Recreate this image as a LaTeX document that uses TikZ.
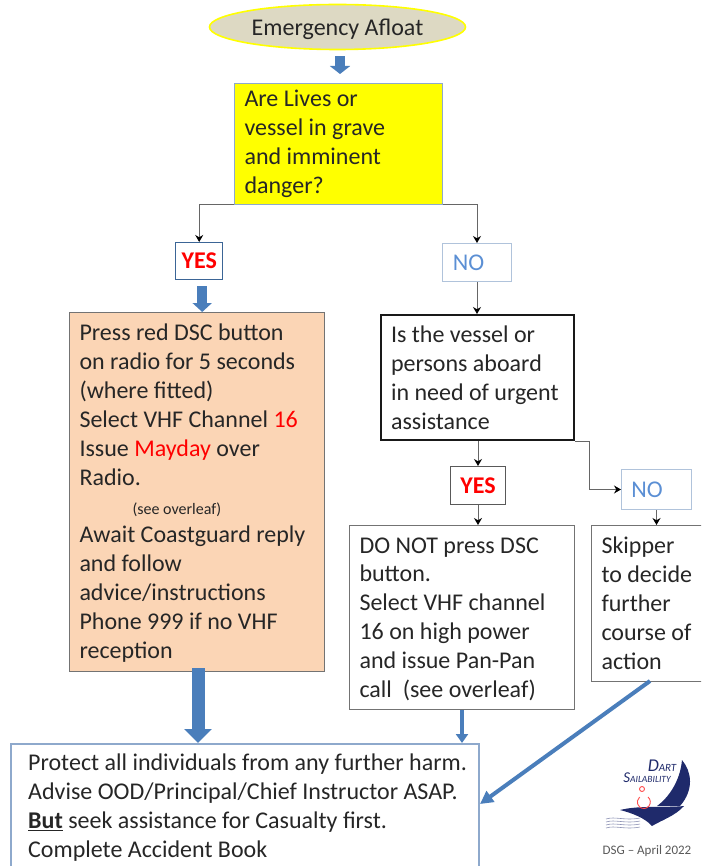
\documentclass[tikz,border=0pt]{standalone}
\usepackage{fontspec}
\setmainfont{Carlito}
\usetikzlibrary{arrows.meta,shapes.geometric}

\definecolor{inkgrey}{HTML}{262626}
\definecolor{frameblue}{HTML}{8EA9CC}
\definecolor{noblue}{HTML}{5B8FD4}
\definecolor{arrowblue}{HTML}{4A7EBB}
\definecolor{peach}{HTML}{FBD5B5}
\definecolor{khaki}{HTML}{DDD9C3}
\definecolor{navy}{HTML}{1F2A6B}
\definecolor{signal}{RGB}{255,255,0}

\tikzset{
  textbox/.style={draw, anchor=north west, align=left, inner xsep=10pt, inner ysep=0pt,
    text=inkgrey, font=\fontsize{24}{28.9}\selectfont,
    execute at begin node={\spaceskip=0pt\xspaceskip=0pt}},
  answer/.style={draw, anchor=north west, inner sep=0pt, font=\fontsize{24}{26}\selectfont},
  thin link/.style={draw=black!60, line width=1pt, -{Stealth[length=7pt,width=8pt,black]}},
  block/.style={draw=arrowblue},
}

\begin{document}
\begin{tikzpicture}[x=1pt,y=-1pt,>=stealth]

  \useasboundingbox (0,0) rectangle (701,866);
  \clip (0,0) rectangle (701,866);

%%%%%%%%%%%%%%%%%%%%%%%%%%%%%%%%%%%%%%%%%%
  % Top of the chart
  \node[ellipse, draw=signal, line width=1.6pt, fill=khaki, minimum width=256pt, minimum height=45pt,
    inner sep=0pt, text=inkgrey, font=\fontsize{24}{26}\selectfont] (afloat) at (337.5,27) {\raisebox{-8.5pt}[0pt][0pt]{Emergency Afloat}};

  \node[textbox, draw=frameblue, line width=1pt, fill=signal, text=black!85, text width=188pt,
    minimum height=121pt] (grave) at (234,83)
    {Are Lives or\\vessel in grave\\and imminent\\danger?};

  \node[answer, draw=arrowblue!80!black, line width=1.4pt, text=red, minimum width=47pt, minimum height=37pt] (yesa) at (175,242) {\textbf{YES}};
  \node[answer, draw=frameblue!70!white, line width=1pt, text=noblue, minimum width=69pt, minimum height=38pt] (noa) at (442,243) {NO\rule{17pt}{0pt}};

  % Left column
  \node[textbox, draw=black!55, line width=1pt, fill=peach, text width=235pt, minimum height=359pt] (mayday) at (69,312)
    {\rule{0pt}{19pt}Press red DSC button\\on radio for 5 seconds\\(where fitted)\\
     Select VHF Channel {\color{red}16}\\Issue {\color{red}Mayday} over\\Radio.\\
     \hspace*{53pt}{\fontsize{16}{28.9}\selectfont (see overleaf)}\\
     Await Coastguard reply\\and follow\\advice/instructions\\Phone 999 if no VHF\\reception};

  % Right column
  \node[textbox, draw=black!90, line width=2pt, text width=173pt, minimum height=125pt] (urgent) at (380,314)
    {Is the vessel or\\persons aboard\\in need of urgent\\assistance};

  \node[answer, draw=black!65, line width=1pt, text=red, minimum width=55pt, minimum height=38pt] (yesb) at (450,466) {\textbf{YES}};
  \node[answer, draw=frameblue!70!white, line width=1pt, text=noblue, minimum width=70pt, minimum height=40pt] (nob) at (621,469) {NO\rule{19pt}{0pt}};

  \node[textbox, draw=black!55, line width=1pt, text width=205pt, minimum height=184pt] (pan) at (349,525)
    {\rule{0pt}{19pt}DO NOT press DSC\\button.\\Select VHF channel\\16 on high power\\and issue Pan-Pan\\call~ (see overleaf)};

  \node[textbox, draw=black!55, line width=1pt, text width=120pt, minimum height=156pt] (skipper) at (591,525)
    {Skipper\\to decide\\further\\course of\\action};

  % Bottom box, runs off the page
  \node[textbox, draw=frameblue, line width=2.4pt, text width=434pt, inner xsep=17pt, inner ysep=10pt] (protect) at (10,743)
    {\mbox{Protect all individuals from any further harm.}\\Advise OOD/Principal/Chief Instructor ASAP.\\
     \underline{\textbf{But}} seek assistance for Casualty first.\\Complete Accident Book};

%%%%%%%%%%%%%%%%%%%%%%%%%%%%%%%%%%%%%%%%%%
  % Thin connectors
  \draw[thin link] (grave.south west) -| (yesa.north);
  \draw[thin link] (grave.south east) -| (noa.north);
  \draw[thin link] (noa.south) -- (urgent.north -| noa.south);
  \draw[thin link] (urgent.south -| yesb.north) -- (yesb.north);
  \draw[thin link] (yesb.south) -- (pan.north -| yesb.south);
  \draw[thin link] (urgent.south east) -- ++(14,0) |- (nob.west);
  \draw[thin link] (nob.south) -- (skipper.north -| nob.south);

  % Block arrows
  \draw[block, line width=10pt, -{Triangle[length=8pt,width=20pt]}, shorten <=6pt, shorten >=9pt] (afloat.south -| 340,0) coordinate (topa) -- (grave.north -| topa);
  \draw[block, line width=10pt, -{Triangle[length=9pt,width=19pt]}, shorten <=6pt] (yesa.south) ++(3,0) coordinate (topb) -- (mayday.north -| topb);
  \draw[block, line width=13pt, -{Triangle[length=14pt,width=27pt]}, shorten <=-4pt] (mayday.south -| 198,0) coordinate (topc) -- (protect.north -| topc);
  \coordinate (panout) at (pan.south -| 462,0);
  \draw[block, line width=4pt, -{Triangle[length=9pt,width=12pt]}] (panout) -- (protect.north -| panout);
  \coordinate (skipout) at (650,681);
  \coordinate (protin) at (480,804);
  \draw[block, line width=4pt, -{Triangle[length=13pt,width=13pt]}] (skipout) -- (protin);

%%%%%%%%%%%%%%%%%%%%%%%%%%%%%%%%%%%%%%%%%%
  % Logo
  \begin{scope}
    % Sail
    \fill[navy] (682,760) .. controls (692,772) and (694,790) .. (680,806)
      -- (657,806) .. controls (668,798) and (680,782) .. (682,760) -- cycle;
    % Hull
    \fill[navy] (620,810) .. controls (640,805) and (665,808) .. (684,806)
      .. controls (675,816) and (662,820) .. (652,826)
      .. controls (645,818) and (632,813) .. (620,810) -- cycle;
    % Waves
    \foreach \wy in {818,821,824,827}
      \draw[navy!50, line width=.6pt] (606,\wy+1) .. controls (615,\wy-2) and (625,\wy+3) .. (640,\wy);
    % Wheelchair
    \draw[red!70, line width=.9pt] (648,797) arc (-50:230:6.5);
    \draw[red!70, line width=.9pt] (642,789) circle (2.5);
    % Name
    \node[inner sep=0pt, text=navy, font=\itshape\fontsize{11}{12}\selectfont] (dartname) at (662,766) {{\fontsize{18}{18}\selectfont D}ART};
    \node[inner sep=0pt, text=navy, font=\itshape\fontsize{9.5}{10}\selectfont] (sailname) at (647,778) {{\fontsize{15}{15}\selectfont S}AILABILITY};
    \node[inner sep=0pt, text=black!65, font=\fontsize{13}{13}\selectfont] (dsgdate) at (647,851) {DSG -- April 2022};
  \end{scope}

\end{tikzpicture}
\end{document}
